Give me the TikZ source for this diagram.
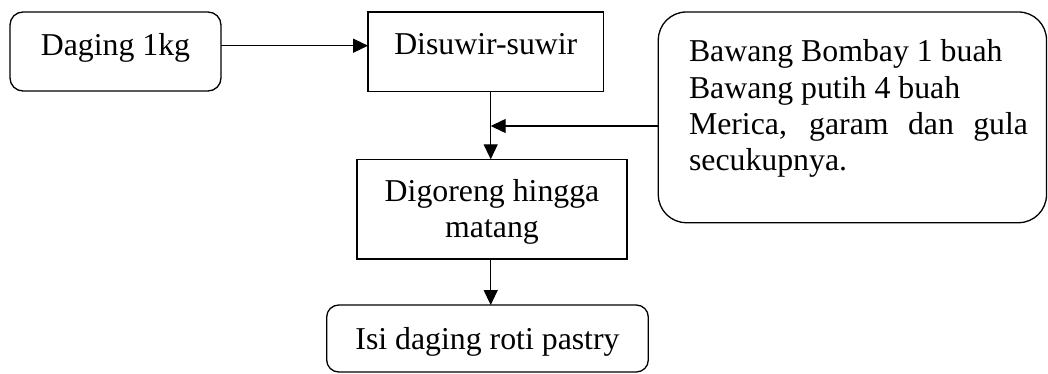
\documentclass[tikz,border=0pt]{standalone}
\usepackage{fontspec}
\setmainfont{Liberation Serif}
\usetikzlibrary{arrows.meta}
\begin{document}
\begin{tikzpicture}[x=1pt,y=1pt,
  every node/.style={font=\fontsize{31.8}{36.3}\selectfont},
  box/.style={draw, line width=1.3pt, inner xsep=0pt, inner ysep=0pt, outer sep=0pt},
  arr/.style={line width=1.3pt, -{Triangle[length=15pt,width=14pt]}}]
\fill[white] (0,0) rectangle (1048,-374);
\useasboundingbox (0,0) rectangle (1048,-374);

\node[box, rounded corners=13pt, minimum width=211pt, text height=43.3pt, text depth=35.7pt, anchor=base] (daging) at (115.5,-55.3) {Daging 1kg};

\node[box, minimum width=235.5pt, text height=43pt, text depth=36.7pt, anchor=base] (suwir) at (485.8,-55) {Disuwir-suwir};

\node[box, minimum width=270pt, text height=41.7pt, text depth=58pt, anchor=base] (goreng) at (492,-201) {\begin{tabular}[t]{@{}c@{}}Digoreng hingga\\matang\end{tabular}};

\node[box, rounded corners=12pt, minimum width=321.6pt, text height=44.3pt, text depth=22.7pt, anchor=base] (isi) at (487.5,-349.3) {Isi daging roti pastry};

\node[box, rounded corners=28pt, minimum width=388.2pt, text height=50pt, text depth=160.7pt, anchor=base west] (bumbu) at (658.3,-62) {\hspace*{12.2pt}\parbox[t]{339pt}{Bawang Bombay 1 buah\\Bawang putih 4 buah\\Merica, garam dan gula\linebreak secukupnya.}};

\coordinate (row1) at (0,-45.7);
\coordinate (spine) at (490.7,-126);

\draw[arr] (daging.east |- row1) -- (suwir.west |- row1);
\draw[arr] (suwir.south -| spine) -- (goreng.north -| spine);
\draw[arr] (bumbu.west |- spine) -- (spine);
\draw[arr] (goreng.south -| spine) -- (isi.north -| spine);
\end{tikzpicture}
\end{document}
